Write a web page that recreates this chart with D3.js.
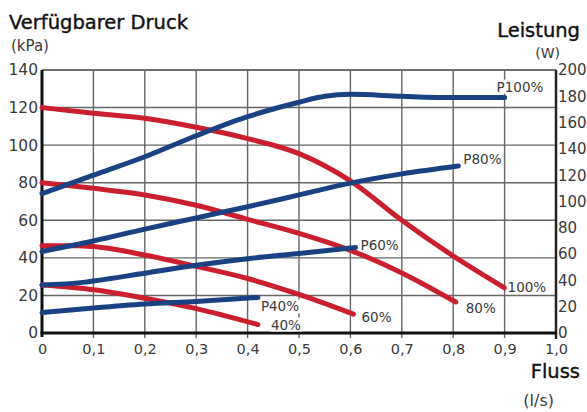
<!DOCTYPE html>
<html>
<head>
<meta charset="utf-8">
<script src="https://cdn.jsdelivr.net/npm/d3@7"></script>
<style>
  body { margin: 0; background: #fff; }
  text { font-family: "DejaVu Sans", sans-serif; }
</style>
</head>
<body>
<div id="chart"></div>
<script>
// flow values (l/s) and curves
// pressure curves (kPa, left axis)
var p100Flow = [0, 0.1, 0.2, 0.3, 0.4, 0.5, 0.6, 0.7, 0.8, 0.9];
var p100Kpa  = [120, 117, 114.3, 109.5, 103.5, 95.5, 81, 60, 41, 24];
var p80Flow  = [0, 0.1, 0.2, 0.3, 0.4, 0.5, 0.6, 0.7, 0.805];
var p80Kpa   = [80, 77, 73.5, 68, 60.5, 53, 44, 32, 16.5];
var p60Flow  = [0, 0.07, 0.1, 0.2, 0.3, 0.4, 0.5, 0.606];
var p60Kpa   = [46.5, 46.5, 46, 41.5, 35.5, 29, 20.5, 10];
var p40Flow  = [0, 0.1, 0.2, 0.3, 0.42];
var p40Kpa   = [25.5, 23, 18.5, 13, 4.5];

// power curves (W, right axis)
var w100Flow = [0, 0.1, 0.2, 0.3, 0.4, 0.5, 0.55, 0.6, 0.7, 0.8, 0.9];
var w100W    = [106, 120, 134, 150, 164.5, 175.5, 180, 181.5, 180, 179, 179];
var w80Flow  = [0, 0.1, 0.2, 0.3, 0.4, 0.5, 0.6, 0.7, 0.81];
var w80W     = [62, 70, 79, 87.5, 96, 105, 114, 121, 127];
var w60Flow  = [0, 0.08, 0.1, 0.2, 0.3, 0.4, 0.5, 0.61];
var w60W     = [36.5, 38.5, 39.5, 45.5, 51.5, 56.5, 60.5, 65];
var w40Flow  = [0, 0.1, 0.2, 0.3, 0.42];
var w40W     = [15.5, 19, 22, 24, 27];

var xTicks = [0, 0.1, 0.2, 0.3, 0.4, 0.5, 0.6, 0.7, 0.8, 0.9, 1.0];
var yTicks = [0, 20, 40, 60, 80, 100, 120, 140];
var y2Ticks = [0, 20, 40, 60, 80, 100, 120, 140, 160, 180, 200];

var svgWidth = 587;
var svgHeight = 412;

var margin = { top: 70, right: 31, bottom: 79, left: 42 };
var width = svgWidth - margin.left - margin.right;
var height = svgHeight - margin.top - margin.bottom;

var red = "#cc1f2d";
var blue = "#1a4282";
var textColor = "#3a3a3a";

var svg = d3.select("#chart")
  .append("svg")
  .attr("width", svgWidth)
  .attr("height", svgHeight);

var chartGroup = svg.append("g")
  .attr("transform", `translate(${margin.left}, ${margin.top})`);

var xScale = d3.scaleLinear().domain([0, 1]).range([0, width]);
var yScale = d3.scaleLinear().domain([0, 140]).range([height, 0]);
var y2Scale = d3.scaleLinear().domain([0, 200]).range([height, 0]);

var fmt = d => d3.format(".1f")(d).replace(".", ",");

// grid
chartGroup.append("g")
  .selectAll("line")
  .data(xTicks.slice(1, -1))
  .enter()
  .append("line")
  .attr("x1", d => xScale(d))
  .attr("x2", d => xScale(d))
  .attr("y1", 0)
  .attr("y2", height + 5)
  .attr("stroke", "#666")
  .attr("stroke-width", 1.4);

chartGroup.append("g")
  .selectAll("line")
  .data(yTicks.slice(1))
  .enter()
  .append("line")
  .attr("x1", 0)
  .attr("x2", width)
  .attr("y1", d => yScale(d))
  .attr("y2", d => yScale(d))
  .attr("stroke", "#666")
  .attr("stroke-width", 1.4);

// axes
var bottomAxis = d3.axisBottom(xScale).tickValues(xTicks).tickFormat(d => d === 0 ? "0" : fmt(d)).tickSize(0).tickPadding(11);
var leftAxis = d3.axisLeft(yScale).tickValues(yTicks).tickSize(0).tickPadding(4);
var rightAxis = d3.axisRight(y2Scale).tickValues(y2Ticks).tickSize(0).tickPadding(2);

var xAxis = chartGroup.append("g")
  .attr("transform", `translate(0, ${height})`)
  .call(bottomAxis);
xAxis.select(".domain").remove();
xAxis.selectAll("text").attr("font-size", "14.5px").attr("fill", textColor);

var yAxis = chartGroup.append("g").call(leftAxis);
yAxis.select(".domain").remove();
yAxis.selectAll("text").attr("font-size", "15.5px").attr("fill", textColor);

var yAxis2 = chartGroup.append("g")
  .attr("transform", `translate(${width}, 0)`)
  .call(rightAxis);
yAxis2.select(".domain").remove();
yAxis2.selectAll("text").attr("font-size", "15px").attr("fill", textColor);

// frame lines
chartGroup.append("line")
  .attr("x1", 0).attr("x2", width).attr("y1", 0).attr("y2", 0)
  .attr("stroke", "#666").attr("stroke-width", 1.4);
chartGroup.append("line")
  .attr("x1", width).attr("x2", width).attr("y1", 0).attr("y2", height + 6)
  .attr("stroke", "#222").attr("stroke-width", 2.5);
chartGroup.append("line")
  .attr("x1", 0).attr("x2", 0).attr("y1", 0).attr("y2", height + 4)
  .attr("stroke", "#111").attr("stroke-width", 3);
chartGroup.append("line")
  .attr("x1", -1.5).attr("x2", width + 1).attr("y1", height).attr("y2", height)
  .attr("stroke", "#111").attr("stroke-width", 3);

// curves
var series = [
  { flow: p100Flow, vals: p100Kpa, scale: yScale, color: red, label: "100%", dx: 3, dy: 4 },
  { flow: p80Flow, vals: p80Kpa, scale: yScale, color: red, label: "80%", dx: 10, dy: 11 },
  { flow: p60Flow, vals: p60Kpa, scale: yScale, color: red, label: "60%", dx: 8, dy: 8 },
  { flow: p40Flow, vals: p40Kpa, scale: yScale, color: red, label: "40%", dx: 13, dy: 5 },
  { flow: w100Flow, vals: w100W, scale: y2Scale, color: blue, label: "P100%", dx: -8, dy: -6 },
  { flow: w80Flow, vals: w80W, scale: y2Scale, color: blue, label: "P80%", dx: 5, dy: -2 },
  { flow: w60Flow, vals: w60W, scale: y2Scale, color: blue, label: "P60%", dx: 5, dy: 2 },
  { flow: w40Flow, vals: w40W, scale: y2Scale, color: blue, label: "P40%", dx: 3, dy: 14 }
];

series.forEach(function(s) {
  var pts = s.flow.map((f, i) => [f, s.vals[i]]);
  var line = d3.line()
    .x(d => xScale(d[0]))
    .y(d => s.scale(d[1]))
    .curve(d3.curveMonotoneX);
  chartGroup.append("path")
    .datum(pts)
    .attr("d", line)
    .attr("fill", "none")
    .attr("stroke", s.color)
    .attr("stroke-width", 5)
    .attr("stroke-linecap", "round")
    .attr("stroke-linejoin", "round");
});

// curve labels with white background
series.forEach(function(s) {
  var last = s.flow.length - 1;
  var lx = xScale(s.flow[last]) + s.dx;
  var ly = s.scale(s.vals[last]) + s.dy;
  var t = chartGroup.append("text")
    .attr("x", lx)
    .attr("y", ly)
    .attr("font-size", "13.5px")
    .attr("fill", textColor)
    .text(s.label);
  var bb = t.node().getBBox();
  chartGroup.insert("rect", function() { return t.node(); })
    .attr("x", bb.x - 1)
    .attr("y", bb.y + 1)
    .attr("width", bb.width + 2)
    .attr("height", bb.height - 2)
    .attr("fill", "#fff");
});

// titles
svg.append("text")
  .attr("x", 9).attr("y", 29)
  .attr("font-size", "19.5px").attr("fill", "#111")
  .attr("stroke", "#111").attr("stroke-width", 0.4)
  .text("Verfügbarer Druck");
svg.append("text")
  .attr("x", 11).attr("y", 51)
  .attr("font-size", "15px").attr("fill", textColor)
  .text("(kPa)");
svg.append("text")
  .attr("x", 580).attr("y", 37)
  .attr("text-anchor", "end")
  .attr("font-size", "19.5px").attr("fill", "#111")
  .attr("stroke", "#111").attr("stroke-width", 0.4)
  .text("Leistung");
svg.append("text")
  .attr("x", 560).attr("y", 58)
  .attr("text-anchor", "end")
  .attr("font-size", "14px").attr("fill", textColor)
  .text("(W)");
svg.append("text")
  .attr("x", 580).attr("y", 378)
  .attr("text-anchor", "end")
  .attr("font-size", "19.5px").attr("fill", "#111")
  .attr("stroke", "#111").attr("stroke-width", 0.4)
  .text("Fluss");
svg.append("text")
  .attr("x", 554).attr("y", 406)
  .attr("text-anchor", "end")
  .attr("font-size", "16px").attr("fill", textColor)
  .text("(l/s)");
</script>
</body>
</html>
